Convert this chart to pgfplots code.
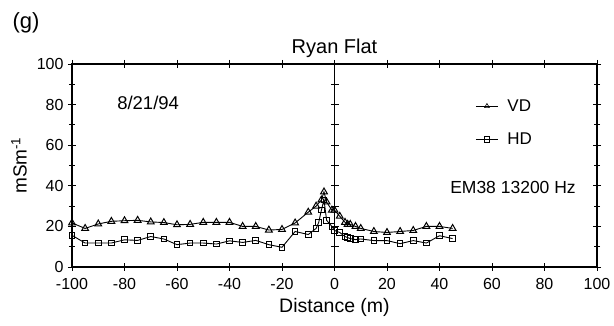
\documentclass[border=0pt]{standalone}
\usepackage{pgfplots}
\pgfplotsset{compat=1.18}
\usepackage{fontspec}
\setmainfont{Liberation Sans}
\begin{document}
\begin{tikzpicture}[x=1pt,y=1pt]
\useasboundingbox (-72,-59) rectangle (542,267);
\begin{axis}[
  at={(0,0)}, anchor=south west,
  scale only axis, width=525pt, height=203pt,
  xmin=-100, xmax=100, ymin=0, ymax=100,
  xtick={-100,-80,...,100}, ytick={0,20,...,100},
  minor y tick num=1,
  tick align=center,
  major tick length=8pt, minor tick length=6pt,
  every tick/.style={black, line width=0.8pt},
  axis line style={line width=1.1pt},
  /pgf/number format/assume math mode=true,
  ticklabel style={font=\fontsize{16}{18}\selectfont},
  xticklabel style={yshift=-4pt},
  yticklabel style={xshift=-1pt},
  xlabel={Distance (m)},
  ylabel={mSm\textsuperscript{-1}},
  xlabel style={font=\fontsize{19.5}{22}\selectfont, yshift=-2pt},
  ylabel style={font=\fontsize{19}{21}\selectfont, yshift=3pt},
  title={Ryan Flat},
  title style={font=\fontsize{20}{22}\selectfont, yshift=-3pt},
  legend style={at={(axis cs:52.5,84.5)}, anchor=north west, draw=none, fill=none,
    font=\fontsize{17}{19}\selectfont, row sep=16pt,
    /tikz/every odd column/.append style={column sep=7pt}},
  legend cell align=left,
  legend image code/.code={\draw[mark repeat=2,mark phase=2,#1,mark size=2.8pt,mark options={line width=0.6pt}] plot coordinates {(0pt,0pt)(11pt,0pt)(22pt,0pt)};},
  clip=false,
]
\addplot[black, line width=0.9pt, mark=triangle, mark size=3.9pt, mark options={solid, fill=white, line width=1pt}] coordinates {
(-100,21.7)(-95,19)(-90,21.2)(-85,22.5)(-80,22.8)(-75,23)(-70,22.2)(-65,21.9)(-60,20.8)(-55,21)
(-50,22)(-45,22)(-40,22)(-35,20)(-30,20)(-25,18.2)(-20,18.5)(-15,21.7)(-10,27)(-7,30)(-5,33)(-4,37)
(-3,32)(-1,28)(0,28)(2,25)(4,22)(5,21)(6,21)(8,20)(10,19)(15,17.5)(20,17)(25,17.5)(30,18)(35,20)(40,20)(45,19)};
\addlegendentry{VD}
\addplot[black, line width=0.9pt, mark=square, mark size=2.8pt, mark options={solid, fill=white, line width=1pt}] coordinates {
(-100,15.6)(-95,11.8)(-90,11.8)(-85,11.8)(-80,13.4)(-75,13.1)(-70,15)(-65,13.8)(-60,11)(-55,11.8)
(-50,11.8)(-45,11.3)(-40,12.9)(-35,12.1)(-30,13.1)(-25,11)(-20,9.7)(-15,17.5)(-10,16)(-7,19)(-6,22)
(-5,28)(-4,33)(-3,23)(-1,20)(0,18)(2,17)(4,15)(5,14.5)(6,14)(8,13.5)(10,13.8)(15,13)(20,13)(25,11.5)
(30,13)(35,11.8)(40,15.4)(45,14)};
\addlegendentry{HD}
\addplot[black, line width=1.1pt, mark=-, mark size=4pt, mark options={line width=0.8pt}, forget plot] coordinates {
(0,0)(0,10)(0,20)(0,30)(0,40)(0,50)(0,60)(0,70)(0,80)(0,90)(0,100)};
\node[anchor=center, font=\fontsize{18.5}{20}\selectfont] at (axis cs:-71,81) {8/21/94};
\node[anchor=center, font=\fontsize{17.5}{20}\selectfont] at (axis cs:68,39) {EM38 13200 Hz};
\node[anchor=north west, font=\fontsize{22}{24}\selectfont] at (axis cs:-124,127) {(g)};
\end{axis}
\end{tikzpicture}
\end{document}
